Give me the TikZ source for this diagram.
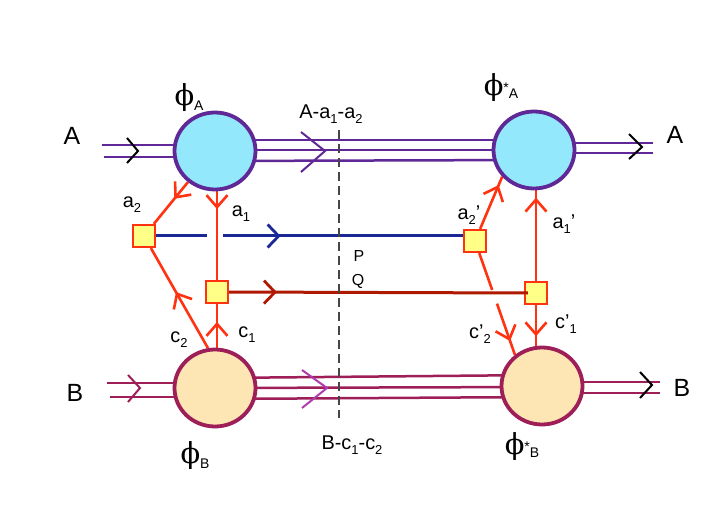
\documentclass[tikz,border=0pt]{standalone}
\usepackage{fontspec}
\setmainfont{Liberation Sans}
\newfontfamily\phifont{DejaVu Serif}
\usetikzlibrary{shapes.geometric,arrows.meta,decorations.markings,calc,backgrounds}
\pgfdeclarelayer{bottom}
\pgfdeclarelayer{background}
\pgfsetlayers{bottom,background,main}
\definecolor{cyanfill}{RGB}{147,232,251}
\definecolor{purp}{RGB}{95,40,150}
\definecolor{peach}{RGB}{253,229,180}
\definecolor{maroonl}{RGB}{158,30,88}
\definecolor{redl}{RGB}{255,51,17}
\definecolor{yel}{RGB}{255,255,136}
\definecolor{bluel}{RGB}{26,40,150}
\definecolor{darkredl}{RGB}{175,25,0}
\definecolor{magchev}{RGB}{175,60,170}
\definecolor{dashgray}{RGB}{70,70,70}
\newcommand\mysub[1]{\raisebox{-0.45ex}{\fontsize{13}{13}\selectfont #1}}
\newcommand\myphi[1]{{\fontsize{29}{29}\phifont\selectfont ϕ}#1}
\begin{document}
\begin{tikzpicture}[x=1bp,y=-1bp,
  phinode/.style={ellipse, inner sep=0, line width=3.8bp, minimum width=81bp, minimum height=77bp},
  phiAstyle/.style={phinode, draw=purp, fill=cyanfill},
  phiBstyle/.style={phinode, draw=maroonl, fill=peach},
  sqbox/.style={rectangle, draw=redl, fill=yel, line width=2.2bp, minimum size=22bp, inner sep=0},
  redline/.style={draw=redl, line width=2.6bp},
  aline/.style={draw=purp, line width=2.5bp},
  bline/.style={draw=maroonl, line width=2.5bp},
  chev/.style={line width=2bp, line join=miter},
  lab/.style={font=\fontsize{20}{20}\selectfont, inner sep=0},
  biglab/.style={font=\fontsize{25}{25}\selectfont, inner sep=0},
  smalllab/.style={font=\fontsize{16}{16}\selectfont, inner sep=0},
  marrow/.style={postaction={decorate, decoration={markings,
      mark=at position #1 with {\arrow{Straight Barb[length=12bp,width=21bp,line width=2.6bp]}}}}},
  warrow/.style={postaction={decorate, decoration={markings,
      mark=at position #1 with {\arrow{Straight Barb[length=11bp,width=23bp,line width=2.8bp]}}}}}
]
\begin{pgfonlayer}{bottom}
\fill[white] (0,0) rectangle (708,531);
\end{pgfonlayer}
\useasboundingbox (0,0) rectangle (708,531);

% blobs
\node[phiAstyle] (phiA) at (215,151) {};
\node[phiAstyle] (phiAs) at (534,150) {};
\node[phiBstyle] (phiB) at (215,388) {};
\node[phiBstyle] (phiBs) at (542,386) {};

% vertices
\node[sqbox] (a2sq) at (144,236) {};
\node[sqbox] (c1sq) at (217,292) {};
\node[sqbox] (a2psq) at (475,241) {};
\node[sqbox] (c1psq) at (536,293) {};

% free ends
\coordinate (Ain1) at (102,145);
\coordinate (Ain2) at (104,157);
\coordinate (Aout1) at (653,143);
\coordinate (Aout2) at (653,153);
\coordinate (Bin1) at (107,383);
\coordinate (Bin2) at (110,397);
\coordinate (Bout1) at (660,382);
\coordinate (Bout2) at (660,393);
\coordinate (bgapL) at (207,236);
\coordinate (bgapR) at (223,236);
\coordinate (dashT) at (339,130);
\coordinate (dashB) at (339,418);

\begin{pgfonlayer}{background}
  % A lines
  \draw[aline] (Ain1) -- (Ain1 -| phiA.center);
  \draw[aline] (Ain2) -- (Ain2 -| phiA.center);
  \draw[aline] ($(phiA.center)+(0,-11)$) -- ($(phiAs.center)+(0,-10)$);
  \draw[aline] ($(phiA.center)+(0,-1)$) -- ($(phiAs.center)+(0,0)$);
  \draw[aline] ($(phiA.center)+(0,10)$) -- ($(phiAs.center)+(0,10)$);
  \draw[aline] (Aout1 -| phiAs.center) -- (Aout1);
  \draw[aline] (Aout2 -| phiAs.center) -- (Aout2);
  % B lines
  \draw[bline] (Bin1) -- (Bin1 -| phiB.center);
  \draw[bline] (Bin2) -- (Bin2 -| phiB.center);
  \draw[bline] ($(phiB.center)+(0,-10)$) -- ($(phiBs.center)+(0,-11)$);
  \draw[bline] ($(phiB.center)+(0,0)$) -- ($(phiBs.center)+(0,1)$);
  \draw[bline] ($(phiB.center)+(0,11)$) -- ($(phiBs.center)+(0,11)$);
  \draw[bline] (Bout1 -| phiBs.center) -- (Bout1);
  \draw[bline] (Bout2 -| phiBs.center) -- (Bout2);
  % red propagators
  \draw[redline, marrow=0.4] (phiA.229) -- (a2sq);
  \draw[redline, marrow=0.2] (c1sq |- phiA.south) -- (c1sq);
  \draw[redline, marrow=0.59] (c1sq |- phiB.north) -- (c1sq);
  \draw[redline, marrow=0.56] (phiB.100) -- (a2sq);
  \draw[redline, marrow=0.84] (a2psq) -- (phiAs.220);
  \draw[redline, marrow=0.92] (c1psq) -- (c1psq |- phiAs.south);
  \draw[redline, marrow=0.77] (c1psq) -- (c1psq |- phiBs.north);
  \coordinate (cgap1) at ($(a2psq)!0.43!(phiBs.131)$);
  \coordinate (cgap2) at ($(a2psq)!0.55!(phiBs.131)$);
  \draw[redline] (a2psq) -- (cgap1);
  \draw[redline, marrow=0.73] (cgap2) -- (phiBs.131);
  % P and Q
  \draw[draw=bluel, line width=3bp] (a2sq.east) -- (bgapL);
  \draw[draw=bluel, line width=3bp, warrow=0.24] (bgapR) -- ($(a2psq.west)+(0,-5)$);
\end{pgfonlayer}
\draw[draw=darkredl, line width=3bp, warrow=0.16] (c1sq.east) -- ($(c1psq.west)+(4,0)$);

% dashed cut
\draw[draw=dashgray, line width=2.5bp, dash pattern=on 9bp off 5bp] (dashT) -- (dashB);

% chevrons on external lines
\draw[chev, black] (127,138) -- (138,151) -- (127,163);
\draw[chev, purp] (301,132) -- (325,151) -- (301,172);
\draw[chev, black] (629,134) -- (642,147) -- (629,159);
\draw[chev, maroonl] (128,375) -- (140,388) -- (128,402);
\draw[chev, magchev] (302,370) -- (327,388) -- (302,408);
\draw[chev, black] (640,372) -- (652,385) -- (640,398);

% labels
\node[biglab] (labAl) at (72,136) {A};
\node[biglab] (labAr) at (675,135) {A};
\node[biglab] (labBl) at (75,393) {B};
\node[biglab] (labBr) at (682,388) {B};

\node[inner sep=0] (labphiA) at (189,98) {\myphi{\raisebox{-5bp}{\fontsize{14}{14}\selectfont A}}};
\node[inner sep=0] (labphiAs) at (501,88) {\myphi{\raisebox{3bp}{\fontsize{14}{14}\selectfont *}\raisebox{-3bp}{\fontsize{14}{14}\selectfont A}}};
\node[inner sep=0] (labphiB) at (195,456) {\myphi{\raisebox{-5bp}{\fontsize{14}{14}\selectfont B}}};
\node[inner sep=0] (labphiBs) at (522,447) {\myphi{\raisebox{3bp}{\fontsize{14}{14}\selectfont *}\raisebox{-3bp}{\fontsize{14}{14}\selectfont B}}};

\node[lab] (labcutA) at (331,114) {A-a\mysub{1}-a\mysub{2}};
\node[lab] (labcutB) at (352,445) {B-c\mysub{1}-c\mysub{2}};
\node[smalllab] (labP) at (359,256) {P};
\node[smalllab] (labQ) at (358,281) {Q};

\node[lab] (laba2) at (132,205) {a\mysub{2}};
\node[lab] (laba1) at (241,214) {a\mysub{1}};
\node[lab] (labc1) at (247,335) {c\mysub{1}};
\node[lab] (labc2) at (179,340) {c\mysub{2}};
\node[lab] (laba2p) at (469,215) {a\mysub{2}'};
\node[lab] (laba1p) at (564,224) {a\mysub{1}'};
\node[lab] (labc1p) at (566,324) {c'\mysub{1}};
\node[lab] (labc2p) at (480,334) {c'\mysub{2}};
\end{tikzpicture}
\end{document}
